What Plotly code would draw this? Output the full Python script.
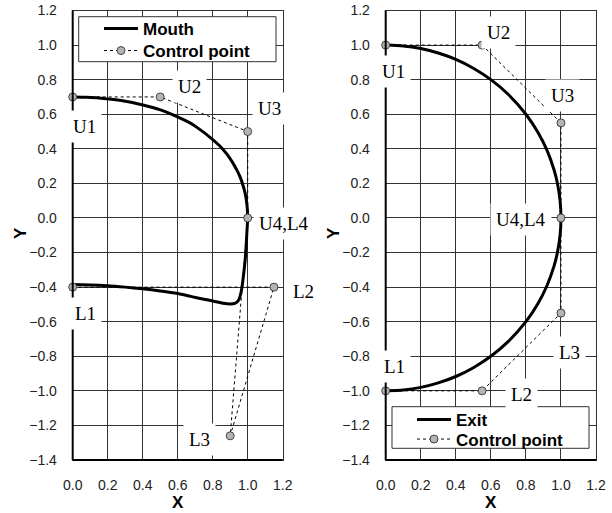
import plotly.graph_objects as go

# ---- Mouth section (left panel) ----
mouth_upper_x = [0.0, 0.08, 0.15, 0.22, 0.30, 0.37, 0.44, 0.51, 0.57, 0.63, 0.69, 0.74, 0.79, 0.838,
                 0.879, 0.914, 0.944, 0.957, 0.968, 0.986, 0.996, 1.0]
mouth_upper_y = [0.70, 0.698, 0.694, 0.686, 0.675, 0.661, 0.643, 0.622, 0.598, 0.57, 0.538, 0.502,
                 0.462, 0.419, 0.372, 0.32, 0.265, 0.236, 0.205, 0.141, 0.073, 0.0]
mouth_lower_x = [1.0, 0.997, 0.994, 0.99, 0.985, 0.975, 0.966, 0.956, 0.945, 0.93, 0.90, 0.86, 0.80,
                 0.75, 0.68, 0.60, 0.50, 0.40, 0.30, 0.20, 0.10, 0.0]
mouth_lower_y = [0.0, -0.055, -0.11, -0.18, -0.25, -0.34, -0.41, -0.455, -0.48, -0.492, -0.497, -0.493,
                 -0.48, -0.47, -0.455, -0.437, -0.422, -0.41, -0.4, -0.392, -0.388, -0.385]

mouth_ctrl_names = ["U1", "U2", "U3", "U4", "L3", "L2", "L1"]
mouth_ctrl_x = [0.0, 0.5, 1.0, 1.0, 0.9, 1.15, 0.0]
mouth_ctrl_y = [0.7, 0.7, 0.5, 0.0, -1.26, -0.4, -0.4]

# ---- Exit section (right panel) ----
exit_upper_x = [0.0, 0.1, 0.2, 0.3, 0.4, 0.5, 0.6, 0.7, 0.8, 0.87, 0.92, 0.96, 0.98, 0.995, 1.0]
exit_upper_y = [1.0, 0.995, 0.98, 0.954, 0.917, 0.866, 0.8, 0.714, 0.6, 0.493, 0.392, 0.28, 0.199, 0.1, 0.0]
exit_lower_x = [1.0, 0.995, 0.98, 0.96, 0.92, 0.87, 0.8, 0.7, 0.6, 0.5, 0.4, 0.3, 0.2, 0.1, 0.0]
exit_lower_y = [0.0, -0.1, -0.199, -0.28, -0.392, -0.493, -0.6, -0.714, -0.8, -0.866, -0.917, -0.954, -0.98, -0.995, -1.0]

exit_ctrl_names = ["U1", "U2", "U3", "U4", "L3", "L2", "L1"]
exit_ctrl_x = [0.0, 0.55, 1.0, 1.0, 1.0, 0.55, 0.0]
exit_ctrl_y = [1.0, 1.0, 0.55, 0.0, -0.55, -1.0, -1.0]

# Point labels: anchor position (axis units) plus a pixel nudge to the right.
# Labels that sit beyond the x range are anchored on their point and nudged.
mouth_labels = ["U1", "U2", "U3", "U4,L4", "L1", "L2", "L3"]
mouth_label_x = [0.07, 0.666, 1.123, 1.0, 0.072, 1.15, 0.727]
mouth_label_y = [0.53, 0.76, 0.635, -0.03, -0.553, -0.427, -1.28]
mouth_label_dx = [0, 0, 0, 36, 0, 30, 0]
exit_labels = ["U1", "U2", "U3", "U4,L4", "L1", "L2", "L3"]
exit_label_x = [0.042, 0.643, 1.01, 0.772, 0.051, 0.773, 1.051]
exit_label_y = [0.85, 1.071, 0.71, -0.01, -0.861, -1.02, -0.776]
exit_label_dx = [0, 0, 0, 0, 0, 0, 0]

x_ticks = [0.0, 0.2, 0.4, 0.6, 0.8, 1.0, 1.2]
y_ticks = [1.2, 1.0, 0.8, 0.6, 0.4, 0.2, 0.0, -0.2, -0.4, -0.6, -0.8, -1.0, -1.2, -1.4]

SANS = "Liberation Sans, Arial, sans-serif"
SERIF = "Liberation Serif, Times New Roman, serif"

W, H = 612, 513


def px(p):
    return p / W


def py(p):
    return (H - p) / H


fig = go.Figure()

ctrl_marker = dict(size=8, color="#b4b4b4", line=dict(width=1, color="#444444"))
ctrl_line = dict(color="black", width=1, dash="dot")

# left panel traces
fig.add_trace(go.Scatter(
    x=mouth_upper_x + mouth_lower_x[1:], y=mouth_upper_y + mouth_lower_y[1:],
    mode="lines", name="Mouth",
    line=dict(color="black", width=3, shape="spline", smoothing=0.5),
    xaxis="x", yaxis="y", legend="legend"))
fig.add_trace(go.Scatter(
    x=mouth_ctrl_x, y=mouth_ctrl_y, text=mouth_ctrl_names,
    mode="lines+markers", name="Control point", line=ctrl_line, marker=ctrl_marker,
    cliponaxis=False, xaxis="x", yaxis="y", legend="legend2"))

# right panel traces
fig.add_trace(go.Scatter(
    x=exit_upper_x + exit_lower_x[1:], y=exit_upper_y + exit_lower_y[1:],
    mode="lines", name="Exit",
    line=dict(color="black", width=3, shape="spline", smoothing=0.6),
    xaxis="x2", yaxis="y2", legend="legend3"))
fig.add_trace(go.Scatter(
    x=exit_ctrl_x, y=exit_ctrl_y, text=exit_ctrl_names,
    mode="lines+markers", name="Control point", line=ctrl_line, marker=ctrl_marker,
    cliponaxis=False, xaxis="x2", yaxis="y2", legend="legend4"))

annotations = []
for xr, yr, labels, lxs, lys, ldx in (
        ("x", "y", mouth_labels, mouth_label_x, mouth_label_y, mouth_label_dx),
        ("x2", "y2", exit_labels, exit_label_x, exit_label_y, exit_label_dx)):
    for txt, lx, ly, dx in zip(labels, lxs, lys, ldx):
        annotations.append(dict(x=lx, y=ly, xref=xr, yref=yr, text=txt, showarrow=False,
                                xanchor="center", yanchor="middle", xshift=dx,
                                font=dict(family=SERIF, size=19, color="black"),
                                bgcolor="white", borderpad=5))

# axis titles
for xc in (177.7, 490.8):
    annotations.append(dict(x=px(xc), y=py(502), xref="paper", yref="paper", text="<b>X</b>",
                            showarrow=False, xanchor="center", yanchor="middle",
                            font=dict(family=SANS, size=17, color="black")))
for xc in (20, 333):
    annotations.append(dict(x=px(xc), y=py(233), xref="paper", yref="paper", text="<b>Y</b>",
                            showarrow=False, textangle=-90, xanchor="center", yanchor="middle",
                            font=dict(family=SANS, size=17, color="black")))

shapes = []
# heavier left/bottom frame edges
for xr, yr in (("x domain", "y domain"), ("x2 domain", "y2 domain")):
    shapes.append(dict(type="line", xref=xr, yref=yr, x0=0, x1=0, y0=0, y1=1,
                       line=dict(color="black", width=2)))
    shapes.append(dict(type="line", xref=xr, yref=yr, x0=0, x1=1, y0=0, y1=0,
                       line=dict(color="black", width=2)))
# legend frames (boxes behind the legend entries)
for x0, x1, y0, y1 in ((78.7, 276, 16.7, 61.7), (392, 589, 406.7, 448.3)):
    shapes.append(dict(type="rect", xref="paper", yref="paper", layer="above",
                       x0=px(x0), x1=px(x1), y0=py(y1), y1=py(y0),
                       fillcolor="white", line=dict(color="#333333", width=1)))

y_dom = [py(460), py(10.5)]


def xaxis_cfg(dom, anchor):
    return dict(domain=dom, range=[0, 1.2], tickvals=x_ticks, tickformat=".1f", anchor=anchor,
                showgrid=True, gridcolor="#333333", gridwidth=1, zeroline=False,
                showline=True, mirror=True, linecolor="#333333", linewidth=1,
                ticks="", ticklabelstandoff=12, automargin=False,
                tickfont=dict(family=SANS, size=14, color="#222222"), fixedrange=True)


def yaxis_cfg(anchor):
    return dict(domain=y_dom, range=[-1.4, 1.2], tickvals=y_ticks, tickformat=".1f", anchor=anchor,
                showgrid=True, gridcolor="#333333", gridwidth=1, zeroline=False,
                showline=True, mirror=True, linecolor="#333333", linewidth=1,
                ticks="", ticklabelstandoff=12, automargin=False,
                tickfont=dict(family=SANS, size=14, color="#222222"), fixedrange=True)


def legend_cfg(x, y):
    return dict(bgcolor="rgba(0,0,0,0)", borderwidth=0,
                font=dict(family=SANS, size=17, color="black", weight="bold"),
                xanchor="left", yanchor="middle", itemwidth=34, x=px(x), y=py(y))


fig.update_layout(
    width=W, height=H, margin=dict(l=0, r=0, t=0, b=0, pad=0, autoexpand=False),
    paper_bgcolor="white", plot_bgcolor="white",
    xaxis=xaxis_cfg([px(72.7), px(282.7)], "y"),
    yaxis=yaxis_cfg("x"),
    xaxis2=xaxis_cfg([px(385.7), px(596)], "y2"),
    yaxis2=yaxis_cfg("x2"),
    legend=legend_cfg(99, 29),
    legend2=legend_cfg(99, 51),
    legend3=legend_cfg(412, 420),
    legend4=legend_cfg(412, 439.5),
    annotations=annotations, shapes=shapes, showlegend=True,
)

fig.write_html("out.html")
